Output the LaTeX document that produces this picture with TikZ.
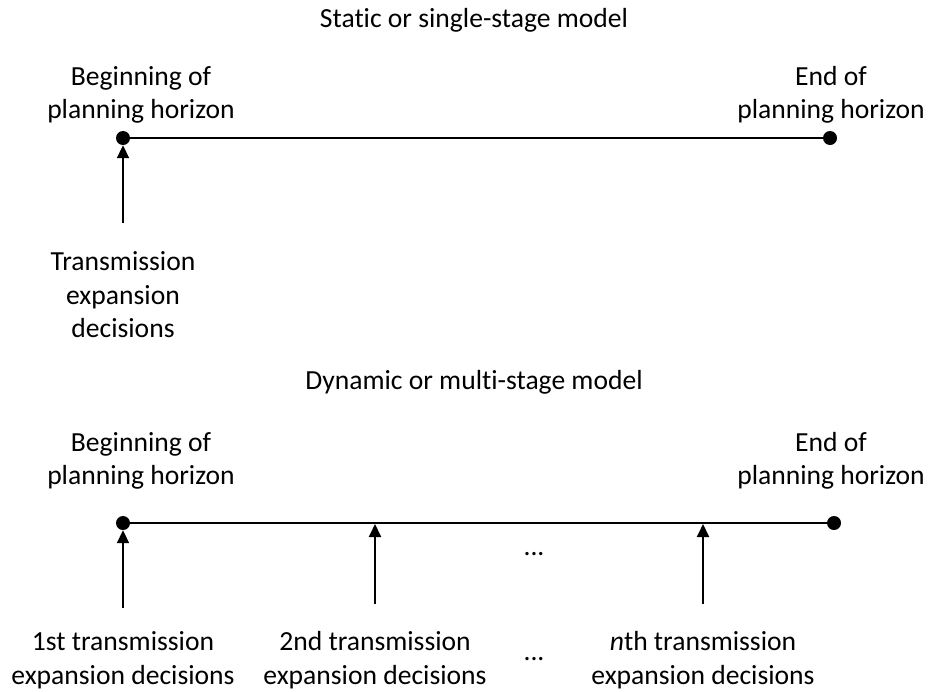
\documentclass[tikz,border=0pt]{standalone}
\usepackage{fontspec}
\setmainfont{Carlito}[Ligatures=NoCommon]
\usetikzlibrary{positioning,arrows.meta}
\tikzset{
  lbl/.style={font=\fontsize{27.6}{33.5}\selectfont, align=center, inner sep=0pt},
  ttl/.style={font=\fontsize{27.6}{33.5}\selectfont, inner sep=0pt},
  pt/.style={circle, fill=black, minimum size=14pt, inner sep=0pt},
  axis/.style={line width=2pt},
  dec/.style={-{Triangle[length=13pt, width=12pt]}, line width=2pt},
}
\begin{document}
\begin{tikzpicture}[x=1pt, y=-1pt]
  \useasboundingbox (0,0) rectangle (928,691);
  % static model
  \node[ttl] (t1) at (474,20) {Static or single-stage model};
  \node[lbl] (b1) at (141,95) {Beginning of\\planning horizon};
  \node[lbl] (e1) at (831,95) {End of\\planning horizon};
  \node[pt] (s1) at (123,138) {};
  \node[pt] (f1) at (830,138) {};
  \draw[axis] (s1) -- (f1);
  \coordinate (a1) at (123,223);
  \draw[dec] (a1) -- (s1.south);
  \node[lbl] (d1) at (123,295) {Transmission\\expansion\\decisions};
  % dynamic model
  \node[ttl] (t2) at (474,382) {Dynamic or multi-stage model};
  \node[lbl] (b2) at (141,461) {Beginning of\\planning horizon};
  \node[lbl] (e2) at (831,461) {End of\\planning horizon};
  \node[pt] (s2) at (123,523) {};
  \node[pt] (f2) at (834,523) {};
  \draw[axis] (s2) -- (f2);
  \coordinate (a2) at (123,608);
  \draw[dec] (a2) -- (s2.south);
  \foreach \x/\nm in {375/m, 703/n} {
    \coordinate (\nm) at (\x,524);
    \coordinate (\nm b) at (\x,604);
    \draw[dec] (\nm b) -- (\nm);
  }
  \node[lbl] (dots1) at (534,554) {...};
  \node[lbl] (dots2) at (534,659) {...};
  \node[lbl] (d2) at (123,660) {1st transmission\\expansion decisions};
  \node[lbl] (d3) at (375,660) {2nd transmission\\expansion decisions};
  \node[lbl] (d4) at (703,660) {\textit{n}th transmission\\expansion decisions};
\end{tikzpicture}
\end{document}
